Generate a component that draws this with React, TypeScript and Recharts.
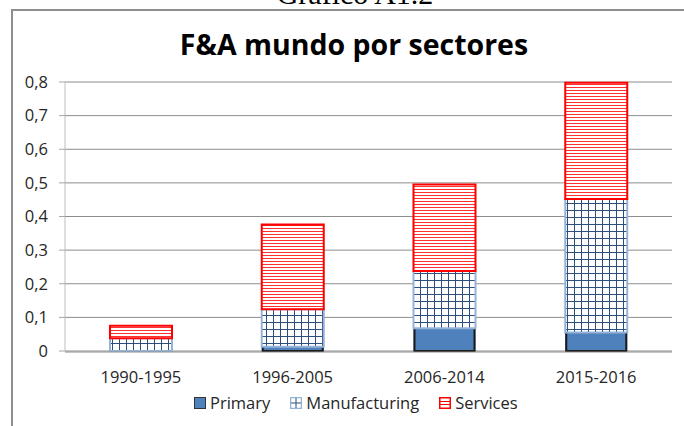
import React from 'react'
import { BarChart, Bar, XAxis, YAxis, CartesianGrid, Legend } from 'recharts'

const CATEGORIES = ['1990-1995', '1996-2005', '2006-2014', '2015-2016']
const PRIMARY = [0, 0.013, 0.068, 0.055]
const MANUFACTURING = [0.038, 0.111, 0.17, 0.397]
const SERVICES = [0.037, 0.252, 0.257, 0.346]
const Y_TICKS = [0, 0.1, 0.2, 0.3, 0.4, 0.5, 0.6, 0.7, 0.8]
const BOUNDARY_TICKS = [0, 1, 2, 3, 4]
const SERIES_KEYS = ['primary', 'manufacturing', 'services']
const SERIES_NAMES = ['Primary', 'Manufacturing', 'Services']

const DATA = CATEGORIES.map((name, i) => ({
  name,
  primary: PRIMARY[i],
  manufacturing: MANUFACTURING[i],
  services: SERVICES[i],
}))

const FONT = '"Open Sans", sans-serif'
const TEXT = '#262626'
const BLUE = '#4F81BD'
const GRID_BLUE = '#2B4E7A'
const LIGHT_BLUE = '#95B3D7'
const RED = '#FF0000'

const fmt = (v: number) => String(v).replace('.', ',')

function PrimaryShape(props: any) {
  const { x, y, width, height, fill } = props
  if (!height || height <= 0) return <g />
  return (
    <g>
      <rect x={x} y={y} width={width} height={height} fill={fill} />
      <path
        d={`M${x + 1},${y} V${y + height} H${x + width - 1} V${y}`}
        fill="none"
        stroke="#1a1a1a"
        strokeWidth={2}
      />
    </g>
  )
}

function LegendIcon({ k }: { k: string }) {
  if (k === 'primary') {
    return (
      <svg width={12} height={12} style={{ display: 'block' }}>
        <rect x={0.5} y={0.5} width={11} height={11} fill={BLUE} stroke="#333" />
      </svg>
    )
  }
  if (k === 'manufacturing') {
    return (
      <svg width={12} height={12} style={{ display: 'block' }}>
        <rect x={0.5} y={0.5} width={11} height={11} fill="#fff" stroke={LIGHT_BLUE} strokeWidth={1.5} />
        <path d="M6,1 V11 M1,6 H11" stroke={GRID_BLUE} strokeWidth={1} />
      </svg>
    )
  }
  return (
    <svg width={12} height={12} style={{ display: 'block' }}>
      <rect x={0.75} y={0.75} width={10.5} height={10.5} fill="#fff" stroke={RED} strokeWidth={1.5} />
      <path d="M1,4.5 H11 M1,7.5 H11" stroke={RED} strokeWidth={1} />
    </svg>
  )
}

function LegendContent() {
  return (
    <div style={{ display: 'flex', alignItems: 'center', fontFamily: FONT, fontSize: 16.5, lineHeight: '20px', color: TEXT }}>
      {SERIES_KEYS.map((k, i) => (
        <div key={k} style={{ display: 'flex', alignItems: 'center', marginRight: 20 }}>
          <LegendIcon k={k} />
          <span style={{ marginLeft: 4 }}>{SERIES_NAMES[i]}</span>
        </div>
      ))}
    </div>
  )
}

export default function App() {
  return (
    <div style={{ position: 'absolute', left: 0, top: 0, width: 684, height: 426, overflow: 'hidden', background: '#fff' }}>
      <svg width={0} height={0} style={{ position: 'absolute' }}>
        <defs>
          <pattern id="gridFill" patternUnits="userSpaceOnUse" width={7} height={7}>
            <rect width={7} height={7} fill="#fff" />
            <path d="M0.5,0 V7 M0,0.5 H7" stroke={GRID_BLUE} strokeWidth={1} />
          </pattern>
          <pattern id="lineFill" patternUnits="userSpaceOnUse" width={8} height={3}>
            <rect width={8} height={3} fill="#fff" />
            <path d="M0,0.5 H8" stroke="#FF3030" strokeWidth={1} />
          </pattern>
        </defs>
      </svg>
      <div
        style={{
          position: 'absolute', left: 11, top: 9, width: 700, height: 440,
          borderLeft: '2px solid #8f8f8f', borderTop: '2px solid #8f8f8f',
        }}
      />
      <svg width={684} height={426} style={{ position: 'absolute', left: 0, top: 0 }}>
        <text x={355} y={4} textAnchor="middle" fontFamily='"Liberation Serif", serif' fontSize={30} fill="#000">
          Gráfico A1.2
        </text>
        <text x={354} y={55} textAnchor="middle" fontFamily={FONT} fontWeight={700} fontSize={28.5} fill="#000">
          F&amp;A mundo por sectores
        </text>
      </svg>
      <div style={{ position: 'absolute', left: 0, top: 0 }}>
        <BarChart width={684} height={426} data={DATA} margin={{ top: 82, right: 12, bottom: 13, left: 15 }}>
          <CartesianGrid xAxisId="cat" vertical={false} stroke="#8c8c8c" />
          <XAxis
            xAxisId="b"
            type="number"
            domain={[0, 4]}
            ticks={BOUNDARY_TICKS}
            allowDataOverflow
            tick={false}
            tickSize={5}
            tickLine={{ stroke: '#7f7f7f' }}
            axisLine={false}
            height={1}
          />
          <XAxis
            xAxisId="cat"
            dataKey="name"
            height={41}
            tickLine={false}
            tickSize={0}
            tickMargin={19}
            axisLine={{ stroke: '#8c8c8c' }}
            tick={{ fill: TEXT, fontSize: 16.5, fontFamily: FONT }}
          />
          <YAxis
            width={50}
            domain={[0, 0.8]}
            ticks={Y_TICKS}
            tickFormatter={fmt}
            tickSize={6}
            tickMargin={11}
            axisLine={{ stroke: '#bfbfbf' }}
            tickLine={{ stroke: '#a6a6a6' }}
            tick={{ fill: TEXT, fontSize: 16.5, fontFamily: FONT }}
          />
          <Legend
            verticalAlign="bottom"
            content={<LegendContent />}
            wrapperStyle={{ left: 194, bottom: 13, width: 'auto', height: 20 }}
          />
          <Bar xAxisId="cat" dataKey="primary" name="Primary" stackId="s" fill={BLUE} barSize={62} shape={<PrimaryShape />} isAnimationActive={false} />
          <Bar xAxisId="cat" dataKey="manufacturing" name="Manufacturing" stackId="s" fill="url(#gridFill)" stroke={LIGHT_BLUE} strokeWidth={2} barSize={62} isAnimationActive={false} />
          <Bar xAxisId="cat" dataKey="services" name="Services" stackId="s" fill="url(#lineFill)" stroke={RED} strokeWidth={2} barSize={62} isAnimationActive={false} />
        </BarChart>
      </div>
    </div>
  )
}
